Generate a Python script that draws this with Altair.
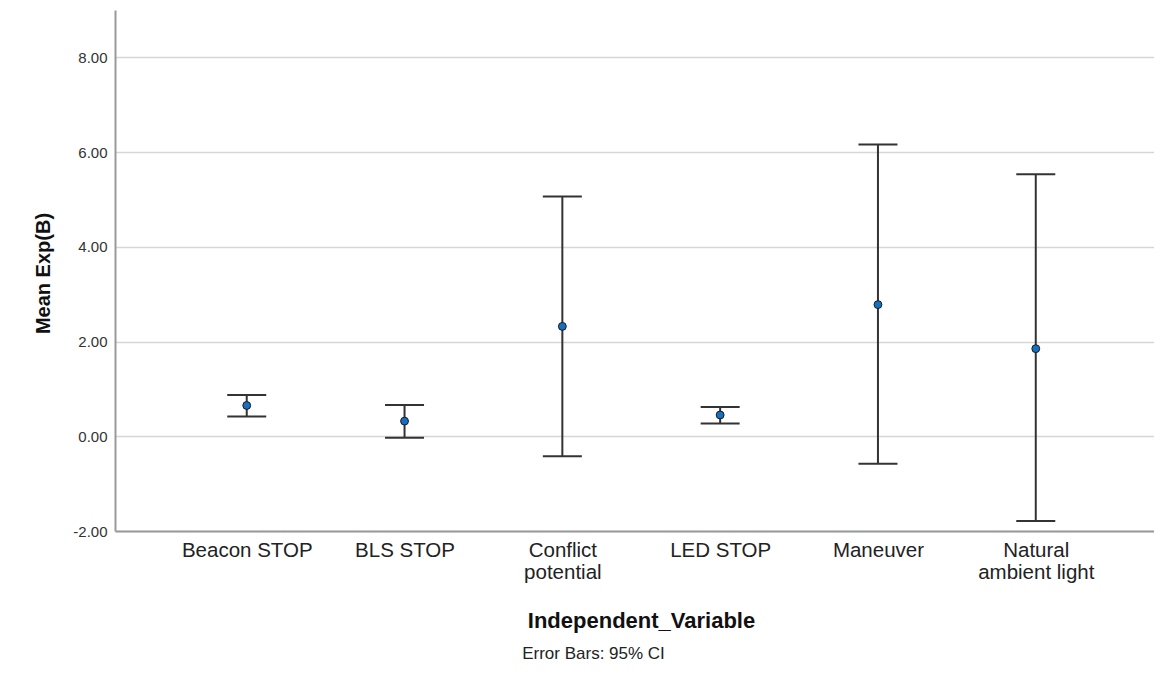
import altair as alt
import pandas as pd

categories = ["Beacon STOP", "BLS STOP", "Conflict potential", "LED STOP", "Maneuver", "Natural ambient light"]
means = [0.65, 0.32, 2.32, 0.45, 2.78, 1.85]
lower = [0.42, -0.03, -0.42, 0.27, -0.58, -1.79]
upper = [0.87, 0.66, 5.06, 0.62, 6.16, 5.53]
y_ticks = [-2, 0, 2, 4, 6, 8]

df = pd.DataFrame({"cat": categories, "mean": means, "lo": lower, "hi": upper})

FONT = "Liberation Sans"
INK = "#333333"

x_enc = alt.X(
    "cat:N",
    sort=categories,
    scale=alt.Scale(type="point", domain=categories, padding=0.792, align=0.527),
    axis=alt.Axis(
        title="Independent_Variable",
        titleFont=FONT, titleFontSize=22, titleFontWeight="bold", titleColor="#111111",
        titleX=526, titleY=89, titleAlign="center", titleBaseline="middle",
        labelFont=FONT, labelFontSize=20.5, labelColor="#222222", labelAngle=0,
        labelPadding=9, labelLineHeight=22,
        labelExpr="datum.label == 'Conflict potential' ? ['Conflict', 'potential'] : datum.label == 'Natural ambient light' ? ['Natural', 'ambient light'] : datum.label",
        ticks=False, grid=False, domainColor="#9a9a9a", domainWidth=2,
    ),
)

y_scale = alt.Scale(domain=[-2, 9], nice=False, zero=False)
y_axis = alt.Axis(
    title="Mean Exp(B)",
    titleFont=FONT, titleFontSize=20, titleFontWeight="bold", titleColor="#111111",
    titleX=-72, titleY=263, titleAngle=270, titleAlign="center", titleBaseline="middle",
    values=y_ticks,
    labelExpr="(datum.value < 0 ? '-' : '') + format(abs(datum.value), '.2f')",
    labelFont=FONT, labelFontSize=15, labelColor="#333333", labelPadding=8,
    ticks=False, grid=True, gridColor="#d6d6d6", gridWidth=1.6,
    domainColor="#9a9a9a", domainWidth=2,
)

base = alt.Chart(df)

rule = base.mark_rule(color=INK, strokeWidth=2).encode(
    x=x_enc,
    y=alt.Y("lo:Q", scale=y_scale, axis=y_axis),
    y2="hi:Q",
)
cap_hi = base.mark_tick(color=INK, thickness=2, size=39, opacity=1).encode(
    x=alt.X("cat:N", sort=categories), y=alt.Y("hi:Q")
)
cap_lo = base.mark_tick(color=INK, thickness=2, size=39, opacity=1).encode(
    x=alt.X("cat:N", sort=categories), y=alt.Y("lo:Q")
)
pts = base.mark_circle(size=62, color="#1570c2", stroke="#1a1a1a", strokeWidth=1, opacity=1).encode(
    x=alt.X("cat:N", sort=categories), y=alt.Y("mean:Q")
)

chart = (
    alt.layer(rule, cap_hi, cap_lo, pts)
    .properties(
        width=1039,
        height=521,
        padding={"left": 107, "top": 2, "right": 0, "bottom": 136},
        autosize=alt.AutoSizeParams(type="none"),
        title=alt.TitleParams(
            "Error Bars: 95% CI", orient="bottom", anchor="middle",
            font=FONT, fontSize=17, fontWeight="normal", color="#222222",
            offset=15, dx=-41,
        ),
    )
    .configure_view(strokeWidth=0)
)

chart.save("out.html", embed_options={"renderer": "svg", "actions": False})
